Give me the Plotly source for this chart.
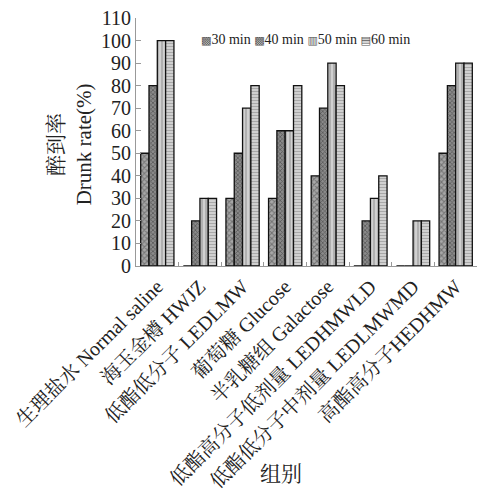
import plotly.graph_objects as go

categories = ["生理盐水 Normal saline", "海玉金樽 HWJZ", "低酯低分子 LEDLMW", "葡萄糖 Glucose",
              "半乳糖组 Galactose", "低酯高分子低剂量 LEDHMWLD", "低酯低分子中剂量 LEDLMWMD", "高酯高分子HEDHMW"]
series_names = ["30 min", "40 min", "50 min", "60 min"]
legend_glyphs = ["▩", "▩", "▥", "▤"]
v30 = [50, 0, 30, 30, 40, 0, 0, 50]
v40 = [80, 20, 50, 60, 70, 20, 0, 80]
v50 = [100, 30, 70, 60, 90, 30, 20, 90]
v60 = [100, 30, 80, 80, 80, 40, 20, 90]
y_ticks = list(range(0, 111, 10))

FONT = "Liberation Serif, 'Noto Serif CJK SC', 'Noto Sans CJK SC', serif"

styles = [
    dict(shape="x", bg="#a8a8a8", fg="#3a3a3a", size=4),
    dict(shape="x", bg="#8a8a8a", fg="#2a2a2a", size=3),
    dict(shape="|", bg="#d0d0d0", fg="#8a8a8a", size=4),
    dict(shape="-", bg="#d8d8d8", fg="#7a7a7a", size=3),
]

fig = go.Figure()
for name, vals, st in zip(series_names, [v30, v40, v50, v60], styles):
    fig.add_trace(go.Bar(
        x=categories, y=vals, name=name,
        marker=dict(color=st["bg"], line=dict(color="#111111", width=1.3),
                    pattern=dict(shape=st["shape"], fgcolor=st["fg"], bgcolor=st["bg"],
                                 size=st["size"], solidity=0.45, fillmode="overlay")),
    ))

legend_text = "".join(
    f"<span style='font-family:DejaVu Sans;font-size:11px;color:#555555'>{g}</span>{n} "
    for g, n in zip(legend_glyphs, series_names))

# page body has an 8px margin: compensate in the figure margins
fig.update_layout(
    width=487, height=491,
    margin=dict(l=128, r=18, t=10, b=233),
    paper_bgcolor="white", plot_bgcolor="white",
    font=dict(family=FONT, color="#222222", size=17),
    barmode="group", bargap=0.22, bargroupgap=0,
    showlegend=False,
    xaxis=dict(type="category", tickangle=-45, tickson="boundaries", ticks="inside", ticklen=4,
               tickcolor="#999999", showline=True, linecolor="#999999", linewidth=1,
               tickfont=dict(size=20, family=FONT), showgrid=False, automargin=False,
               ticklabeloverflow="allow"),
    yaxis=dict(range=[0, 110], tickvals=y_ticks, ticks="inside", ticklen=5, tickcolor="#999999",
               showline=True, linecolor="#999999", linewidth=1, showgrid=False, zeroline=False,
               tickfont=dict(size=20, family=FONT), automargin=False,
               ticklabeloverflow="allow"),
    annotations=[
        dict(text=legend_text, xref="paper", yref="paper", x=0.185, y=0.915,
             xanchor="left", yanchor="middle", showarrow=False, font=dict(size=14, family=FONT)),
        dict(text="醉到率<br>Drunk rate(%)", xref="paper", yref="paper", x=-0.194, y=0.49,
             xanchor="center", yanchor="middle",
             textangle=-90, showarrow=False, font=dict(size=21, family=FONT)),
        dict(text="组别", xref="paper", yref="paper", x=0.425, y=-0.84,
             xanchor="center", yanchor="middle",
             showarrow=False, font=dict(size=21, family=FONT)),
    ],
)

fig.write_html("out.html")
